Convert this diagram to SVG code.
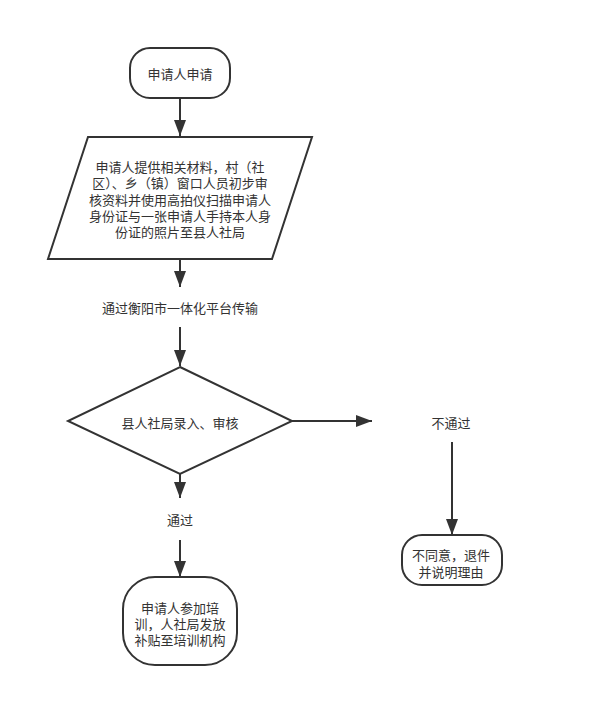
<svg xmlns="http://www.w3.org/2000/svg" width="594" height="726" viewBox="0 0 594 726">
<defs>
<style>
.shape{fill:#fff;stroke:#333;stroke-width:2}
.conn{fill:none;stroke:#333;stroke-width:2}
text{font-family:"Noto Sans CJK SC","Noto Sans",sans-serif;font-size:13px;fill:#333;text-anchor:middle;dominant-baseline:central}
</style>
<marker id="arr" markerUnits="userSpaceOnUse" markerWidth="17" markerHeight="12" refX="16" refY="6" orient="auto">
<path d="M0,0 L16,6 L0,12 Z" fill="#333"/>
</marker>
</defs>
<rect width="594" height="726" fill="#fff"/>
<g id="connectors">
<line class="conn" x1="180" y1="98" x2="180" y2="136" marker-end="url(#arr)"/>
<line class="conn" x1="180" y1="259" x2="180" y2="287" marker-end="url(#arr)"/>
<line class="conn" x1="180" y1="327" x2="180" y2="366" marker-end="url(#arr)"/>
<line class="conn" x1="292" y1="421" x2="372" y2="421" marker-end="url(#arr)"/>
<line class="conn" x1="180" y1="474" x2="180" y2="498" marker-end="url(#arr)"/>
<line class="conn" x1="180" y1="540" x2="180" y2="577" marker-end="url(#arr)"/>
<line class="conn" x1="452" y1="442" x2="452" y2="535" marker-end="url(#arr)"/>
</g>
<g id="start">
<rect class="shape" x="130" y="48" width="100" height="50" rx="20" ry="20"/>
<text x="180" y="73.5">申请人申请</text>
</g>
<g id="submit">
<polygon class="shape" points="88,137 312,137 272,259 48,259"/>
<text x="180" y="166"><tspan x="180" y="166">申请人提供相关材料，村（社</tspan><tspan x="180" y="182.3">区）、乡（镇）窗口人员初步审</tspan><tspan x="180" y="198.5">核资料并使用高拍仪扫描申请人</tspan><tspan x="180" y="214.8">身份证与一张申请人手持本人身</tspan><tspan x="180" y="231">份证的照片至县人社局</tspan></text>
</g>
<g id="transfer">
<text x="180" y="307">通过衡阳市一体化平台传输</text>
</g>
<g id="review">
<polygon class="shape" points="180,367 292,421 180,474 68,421"/>
<text x="180" y="422">县人社局录入、审核</text>
</g>
<g id="pass-label">
<text x="180" y="519">通过</text>
</g>
<g id="fail-label">
<text x="451" y="422">不通过</text>
</g>
<g id="training">
<rect class="shape" x="123" y="577" width="114" height="88" rx="32" ry="32"/>
<text x="180" y="607"><tspan x="180" y="607">申请人参加培</tspan><tspan x="180" y="623">训，人社局发放</tspan><tspan x="180" y="638.5">补贴至培训机构</tspan></text>
</g>
<g id="reject">
<rect class="shape" x="402" y="535" width="100" height="50" rx="20" ry="20"/>
<text x="451" y="554"><tspan x="451" y="554">不同意，退件</tspan><tspan x="451" y="571">并说明理由</tspan></text>
</g>
</svg>
